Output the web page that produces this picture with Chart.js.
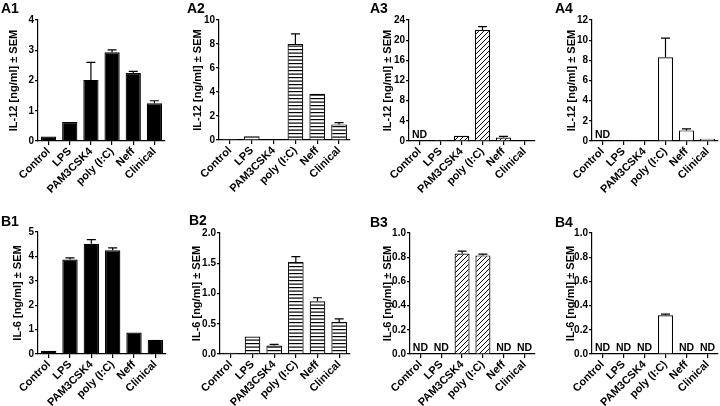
<!DOCTYPE html>
<html>
<head>
<meta charset="utf-8">
<script src="https://cdn.jsdelivr.net/npm/chart.js@4.4.1/dist/chart.umd.min.js"></script>
<style>
html,body{margin:0;padding:0;background:#fff;}
#wrap{position:relative;width:720px;height:406px;overflow:hidden;}
canvas{position:absolute;}
</style>
</head>
<body>
<div id="wrap"></div>
<script>
// ---------- data ----------
const categories = ['Control', 'LPS', 'PAM3CSK4', 'poly (I:C)', 'Neff', 'Clinical'];

const a1Values = [0.15, 0.63, 2.02, 2.93, 2.25, 1.25];
const a1Errors = [0.01, 0.01, 0.58, 0.08, 0.05, 0.08];
const a2Values = [0.08, 0.32, 0.05, 8.0, 3.85, 1.3];
const a2Errors = [0.02, 0.04, 0.01, 0.85, 0.05, 0.15];
const a3Values = [null, 0.2, 1.05, 22.0, 0.7, 0.1];
const a3Errors = [0, 0.05, 0.05, 0.7, 0.2, 0.02];
const a4Values = [null, 0.05, 0.06, 8.3, 1.05, 0.22];
const a4Errors = [0, 0.01, 0.02, 1.9, 0.15, 0.06];

const b1Values = [0.13, 3.87, 4.52, 4.25, 0.88, 0.58];
const b1Errors = [0.02, 0.07, 0.17, 0.10, 0.02, 0.02];
const b2Values = [0.02, 0.29, 0.14, 1.52, 0.87, 0.53];
const b2Errors = [0.005, 0.01, 0.02, 0.09, 0.06, 0.05];
const b3Values = [null, null, 0.83, 0.815, null, null];
const b3Errors = [0, 0, 0.02, 0.01, 0, 0];
const b4Values = [null, null, null, 0.32, null, null];
const b4Errors = [0, 0, 0, 0.01, 0, 0];

const panelNames = ['A1', 'A2', 'A3', 'A4', 'B1', 'B2', 'B3', 'B4'];
const yTitles = ['IL-12 [ng/ml] ± SEM', 'IL-12 [ng/ml] ± SEM', 'IL-12 [ng/ml] ± SEM', 'IL-12 [ng/ml] ± SEM',
                 'IL-6 [ng/ml] ± SEM', 'IL-6 [ng/ml] ± SEM', 'IL-6 [ng/ml] ± SEM', 'IL-6 [ng/ml] ± SEM'];
const yMaxes = [4, 10, 24, 12, 5, 2, 1, 1];
const ySteps = [1, 2, 4, 2, 1, 0.5, 0.2, 0.2];
const yDecimals = [0, 0, 0, 0, 0, 1, 1, 1];
const panelValues = [a1Values, a2Values, a3Values, a4Values, b1Values, b2Values, b3Values, b4Values];
const panelErrors = [a1Errors, a2Errors, a3Errors, a4Errors, b1Errors, b2Errors, b3Errors, b4Errors];
const ndText = 'ND';

// ---------- layout (positions / styles) ----------
const PW = 180, PH = 203;
// chart area inside each panel canvas: left, right, top, bottom
const areas = [
  [38, 165, 20, 141], [39, 170, 20, 140], [49, 175, 20, 141], [52, 178, 20, 141],
  [38, 166, 29, 151], [40, 170, 30, 151], [50, 175, 30, 151], [52, 178, 30, 151]
];
const titleOffsets = [-24, -21, -21, -20, -20, -23, -22, -21];
const labelPos = [[1, 13], [7, 13], [10, 13], [15, 13], [1, 23], [9, 22], [10, 24], [15, 24]];
const fills = ['solid', 'hstripe', 'diag', 'white', 'solid', 'hstripe', 'diag', 'white'];
const FONT = '"Liberation Sans", Arial, sans-serif';

function makePattern(kind) {
  if (kind === 'solid') return '#000';
  if (kind === 'white') return '#fff';
  const c = document.createElement('canvas');
  const g = c.getContext('2d');
  if (kind === 'hstripe') {
    c.width = 4; c.height = 7;
    g.fillStyle = '#fff'; g.fillRect(0, 0, 4, 7);
    g.fillStyle = '#000';
    g.fillRect(0, 0, 4, 1.2);
    g.fillRect(0, 3.5, 4, 1.2);
  } else {
    const s = 5;
    c.width = s; c.height = s;
    g.fillStyle = '#fff'; g.fillRect(0, 0, s, s);
    g.strokeStyle = '#000'; g.lineWidth = 1;
    g.beginPath();
    g.moveTo(-1, s + 1); g.lineTo(s + 1, -1);
    g.moveTo(-1, 1); g.lineTo(1, -1);
    g.moveTo(s - 1, s + 1); g.lineTo(s + 1, s - 1);
    g.stroke();
  }
  return g.createPattern(c, 'repeat');
}

const extrasPlugin = {
  id: 'extras',
  afterDatasetsDraw(chart) {
    const o = chart.options.plugins.extras;
    const {ctx, scales: {x, y}} = chart;
    const vals = chart.data.datasets[0].data;
    ctx.save();
    ctx.strokeStyle = '#000';
    ctx.fillStyle = '#000';
    ctx.lineWidth = 1.2;
    vals.forEach((v, i) => {
      const cx = x.getPixelForValue(i);
      if (v === null) {
        ctx.font = 'bold 10.5px ' + FONT;
        ctx.textAlign = 'center';
        ctx.textBaseline = 'alphabetic';
        ctx.fillText(o.nd, cx, y.getPixelForValue(0) - 3);
        return;
      }
      const e = o.errors[i];
      if (e > 0) {
        const y0 = y.getPixelForValue(v);
        const y1 = y.getPixelForValue(v + e);
        if (y0 - y1 >= 1) {
          ctx.beginPath();
          ctx.moveTo(cx, y0); ctx.lineTo(cx, y1);
          ctx.moveTo(cx - 4.5, y1); ctx.lineTo(cx + 4.5, y1);
          ctx.stroke();
        }
      }
    });
    // y axis title
    const a = chart.chartArea;
    ctx.save();
    ctx.translate(a.left + o.titleOffset, (a.top + a.bottom) / 2);
    ctx.rotate(-Math.PI / 2);
    ctx.font = 'bold 11px ' + FONT;
    ctx.textAlign = 'center';
    ctx.textBaseline = 'middle';
    ctx.fillText(o.title, 0, 0);
    ctx.restore();
    // panel label
    ctx.font = 'bold 14px ' + FONT;
    ctx.textAlign = 'left';
    ctx.textBaseline = 'alphabetic';
    ctx.fillText(o.label, o.labelX, o.labelY);
    ctx.restore();
  }
};

const wrap = document.getElementById('wrap');
panelNames.forEach((name, p) => {
  const col = p % 4, row = Math.floor(p / 4);
  const cv = document.createElement('canvas');
  cv.width = PW; cv.height = PH;
  cv.style.left = (col * PW) + 'px';
  cv.style.top = (row * PH) + 'px';
  cv.style.width = PW + 'px'; cv.style.height = PH + 'px';
  wrap.appendChild(cv);
  const [L, R, T, B] = areas[p];
  const fill = makePattern(fills[p]);
  new Chart(cv, {
    type: 'bar',
    data: {
      labels: categories,
      datasets: [{
        data: panelValues[p],
        backgroundColor: fill,
        borderColor: '#000',
        borderWidth: 1.2,
        barPercentage: 0.72,
        categoryPercentage: 1
      }]
    },
    options: {
      responsive: false,
      animation: false,
      devicePixelRatio: 1,
      layout: {padding: {left: 0, top: T, right: PW - R, bottom: 0}},
      plugins: {
        legend: {display: false},
        tooltip: {enabled: false},
        extras: {
          errors: panelErrors[p], nd: ndText, title: yTitles[p], titleOffset: titleOffsets[p],
          label: name, labelX: labelPos[p][0], labelY: labelPos[p][1]
        }
      },
      scales: {
        x: {
          afterFit: s => { s.height = PH - B; },
          grid: {display: true, drawOnChartArea: false, offset: false, tickLength: 4, color: '#000', lineWidth: 1.2},
          border: {display: true, color: '#000', width: 1.2},
          ticks: {color: '#000', font: {family: FONT, size: 11, weight: 'bold'}, maxRotation: 45, minRotation: 45, padding: 0, autoSkip: false}
        },
        y: {
          min: 0, max: yMaxes[p],
          afterFit: s => { s.width = L; },
          grid: {display: true, drawOnChartArea: false, tickLength: 3, color: '#000', lineWidth: 1.2},
          border: {display: true, color: '#000', width: 1.2},
          ticks: {
            stepSize: ySteps[p], color: '#000', padding: 1,
            font: {family: FONT, size: 10, weight: 'bold'},
            callback: v => Number(v).toFixed(yDecimals[p])
          }
        }
      }
    },
    plugins: [extrasPlugin]
  });
});
</script>
</body>
</html>
